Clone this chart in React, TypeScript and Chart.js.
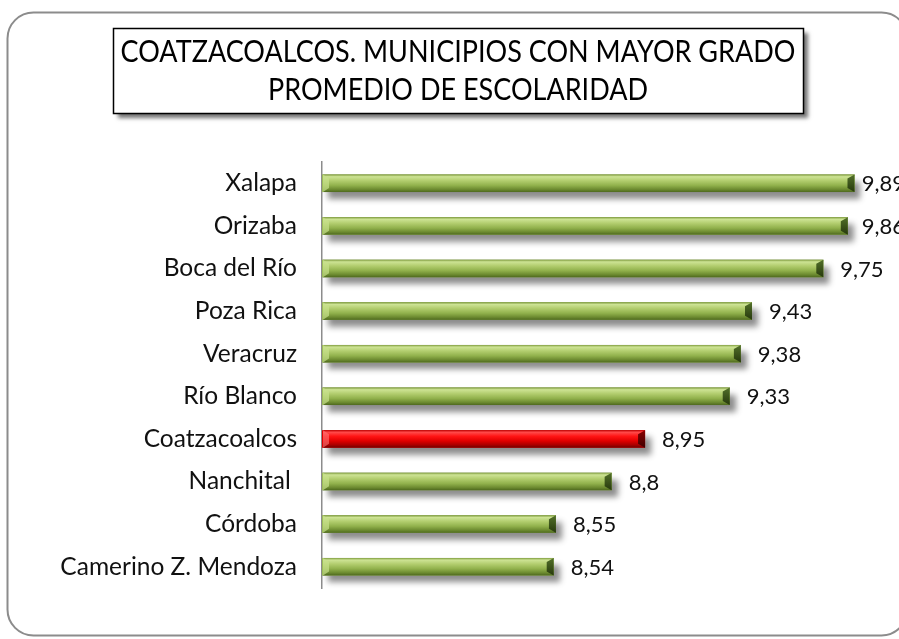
import React, { useEffect, useRef } from "react";
import { Chart, registerables } from "chart.js";
Chart.register(...registerables);

const categories = [
  "Xalapa",
  "Orizaba",
  "Boca del Río",
  "Poza Rica",
  "Veracruz",
  "Río Blanco",
  "Coatzacoalcos",
  "Nanchital ",
  "Córdoba",
  "Camerino Z. Mendoza",
];
const values = [9.89, 9.86, 9.75, 9.43, 9.38, 9.33, 8.95, 8.8, 8.55, 8.54];
const highlighted = "Coatzacoalcos";
const titleLines = ["COATZACOALCOS. MUNICIPIOS CON MAYOR GRADO", "PROMEDIO DE ESCOLARIDAD"];
const axisMin = 7.5;
const axisMax = 10;

const FONT = "Lato, 'Open Sans', sans-serif";

function roundRectPath(ctx: CanvasRenderingContext2D, x: number, y: number, w: number, h: number, r: number) {
  ctx.beginPath();
  ctx.moveTo(x + r, y);
  ctx.lineTo(x + w - r, y);
  ctx.arcTo(x + w, y, x + w, y + r, r);
  ctx.lineTo(x + w, y + h - r);
  ctx.arcTo(x + w, y + h, x + w - r, y + h, r);
  ctx.lineTo(x + r, y + h);
  ctx.arcTo(x, y + h, x, y + h - r, r);
  ctx.lineTo(x, y + r);
  ctx.arcTo(x, y, x + r, y, r);
  ctx.closePath();
}

const framePlugin = {
  id: "frame",
  beforeDraw(chart: any) {
    const ctx: CanvasRenderingContext2D = chart.ctx;
    ctx.save();
    ctx.fillStyle = "#ffffff";
    ctx.fillRect(0, 0, chart.width, chart.height);
    // outer rounded frame
    ctx.strokeStyle = "#8c8c8c";
    ctx.lineWidth = 2;
    roundRectPath(ctx, 7.5, 12.5, 900, 623, 26);
    ctx.stroke();
    // title box with shadow
    ctx.shadowColor = "rgba(0,0,0,0.55)";
    ctx.shadowBlur = 4;
    ctx.shadowOffsetX = 5;
    ctx.shadowOffsetY = 5;
    ctx.fillStyle = "#ffffff";
    ctx.fillRect(113, 28, 690, 85);
    ctx.shadowColor = "transparent";
    ctx.shadowBlur = 0;
    ctx.shadowOffsetX = 0;
    ctx.shadowOffsetY = 0;
    ctx.strokeStyle = "#000000";
    ctx.lineWidth = 1.5;
    ctx.strokeRect(113.5, 28.5, 690, 85);
    ctx.fillStyle = "#000000";
    ctx.font = `31px ${FONT}`;
    ctx.textAlign = "center";
    ctx.textBaseline = "alphabetic";
    const w0 = ctx.measureText(titleLines[0]).width;
    const sx = Math.min(1, 675 / w0);
    ctx.translate(458, 0);
    ctx.scale(sx, 1);
    ctx.fillText(titleLines[0], 0, 62);
    ctx.fillText(titleLines[1], 0, 100);
    ctx.restore();
  },
};

const barPlugin = {
  id: "bevelBars",
  beforeDatasetsDraw(chart: any) {
    const ctx: CanvasRenderingContext2D = chart.ctx;
    const meta = chart.getDatasetMeta(0);
    const left = chart.chartArea.left;
    ctx.save();
    ctx.shadowColor = "rgba(0,0,0,0.45)";
    ctx.shadowBlur = 6;
    ctx.shadowOffsetX = 6;
    ctx.shadowOffsetY = 7;
    ctx.fillStyle = "#808080";
    meta.data.forEach((el: any) => {
      const p = el.getProps(["x", "y", "base", "height"], true);
      const b = Math.max(p.base, left);
      ctx.fillRect(b, p.y - p.height / 2, p.x - b, p.height);
    });
    ctx.restore();
  },
  afterDatasetsDraw(chart: any) {
    const ctx: CanvasRenderingContext2D = chart.ctx;
    const meta = chart.getDatasetMeta(0);
    const left = chart.chartArea.left;
    ctx.save();
    meta.data.forEach((el: any, i: number) => {
      const p = el.getProps(["x", "y", "base", "height"], true);
      const b = Math.max(p.base, left) + 1;
      const top = p.y - p.height / 2;
      const bottom = p.y + p.height / 2;
      const red = categories[i] === highlighted;
      const g = ctx.createLinearGradient(0, top, 0, bottom);
      if (red) {
        g.addColorStop(0, "#c00000");
        g.addColorStop(0.12, "#ff4a4a");
        g.addColorStop(0.35, "#ff1414");
        g.addColorStop(0.62, "#e00000");
        g.addColorStop(0.85, "#a80000");
        g.addColorStop(1, "#700000");
      } else {
        g.addColorStop(0, "#7f9c3e");
        g.addColorStop(0.12, "#cde394");
        g.addColorStop(0.35, "#b2cd6e");
        g.addColorStop(0.62, "#91b14c");
        g.addColorStop(0.85, "#6c8a30");
        g.addColorStop(1, "#4e691e");
      }
      ctx.fillStyle = g;
      ctx.fillRect(b, top, p.x - b, p.height);
      // left bevel
      ctx.fillStyle = red ? "rgba(255,120,120,0.6)" : "rgba(200,225,140,0.7)";
      ctx.beginPath();
      ctx.moveTo(b, top);
      ctx.lineTo(b + 6, top + 4);
      ctx.lineTo(b + 6, bottom - 4);
      ctx.lineTo(b, bottom);
      ctx.closePath();
      ctx.fill();
      // right end cap
      const cg = ctx.createLinearGradient(0, top, 0, bottom);
      if (red) {
        cg.addColorStop(0, "#8a0000");
        cg.addColorStop(1, "#400000");
      } else {
        cg.addColorStop(0, "#52702a");
        cg.addColorStop(1, "#26380c");
      }
      ctx.fillStyle = cg;
      ctx.beginPath();
      ctx.moveTo(p.x - 7, top + 4);
      ctx.lineTo(p.x, top);
      ctx.lineTo(p.x, bottom);
      ctx.lineTo(p.x - 7, bottom - 4);
      ctx.closePath();
      ctx.fill();
    });
    // value labels
    ctx.font = `22px ${FONT}`;
    ctx.fillStyle = "#111111";
    ctx.textAlign = "left";
    ctx.textBaseline = "middle";
    meta.data.forEach((el: any, i: number) => {
      const p = el.getProps(["x", "y"], true);
      const txt = String(values[i]).replace(".", ",");
      const w = ctx.measureText(txt).width;
      const x = Math.min(p.x + 17, chart.width + 6 - w);
      ctx.fillText(txt, x, p.y + 1);
    });
    ctx.restore();
  },
};

export default function App() {
  const ref = useRef<HTMLCanvasElement | null>(null);
  useEffect(() => {
    if (!ref.current) return;
    const chart = new Chart(ref.current, {
      type: "bar",
      data: {
        labels: categories,
        datasets: [
          {
            data: values,
            backgroundColor: categories.map((c) => (c === highlighted ? "#e00000" : "#9bbb59")),
            borderWidth: 0,
            categoryPercentage: 1,
            barPercentage: 0.41,
          },
        ],
      },
      options: {
        indexAxis: "y",
        responsive: false,
        animation: false,
        devicePixelRatio: 1,
        layout: { padding: { left: 0, right: 20, top: 162, bottom: 51 } },
        plugins: {
          legend: { display: false },
          title: { display: false },
          tooltip: { enabled: false },
        },
        scales: {
          x: { display: false, min: axisMin, max: axisMax },
          y: {
            grid: { display: false, drawTicks: false },
            border: { display: true, color: "#8c8c8c", width: 1.5 },
            ticks: { padding: 25, color: "#111111", font: { family: FONT, size: 24.5 } },
            afterFit(scale: any) {
              scale.width = 322;
            },
          },
        },
      } as any,
      plugins: [framePlugin, barPlugin],
    });
    return () => chart.destroy();
  }, []);
  return (
    <div style={{ position: "absolute", left: 0, top: 0, width: 899, height: 639, background: "#fff" }}>
      <canvas ref={ref} width={899} height={639} style={{ display: "block" }} />
    </div>
  );
}
